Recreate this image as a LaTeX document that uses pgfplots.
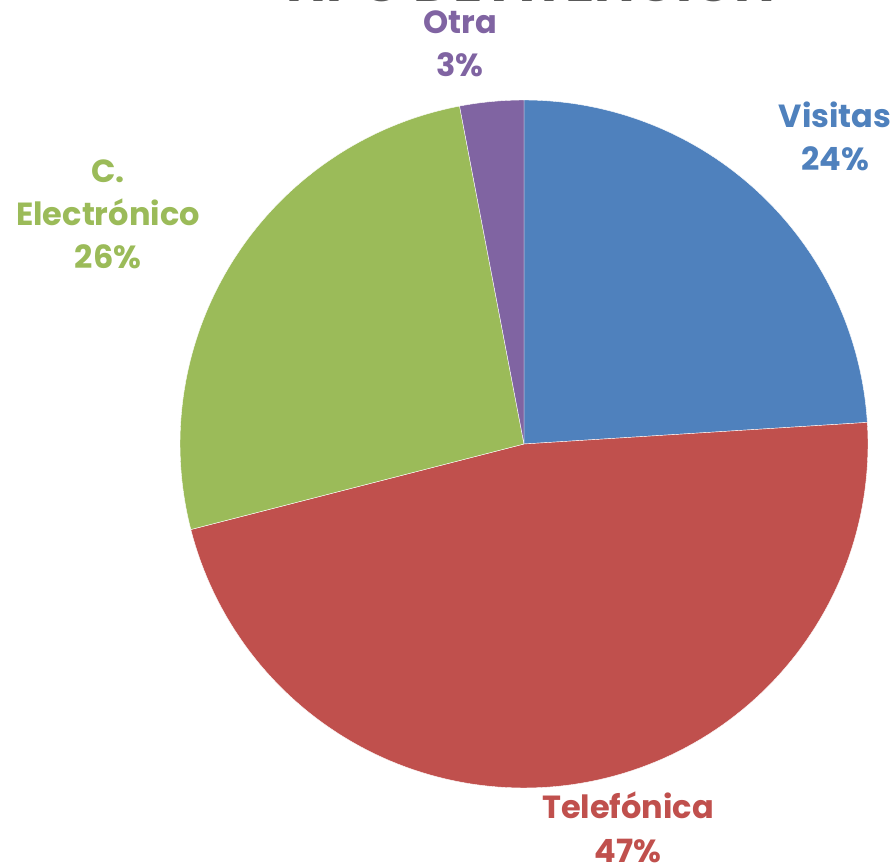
\documentclass[border=0pt]{standalone}
\usepackage{pgfplots}
\usepackage{pgfplotstable}
\pgfplotsset{compat=1.18}
\usepackage{fontspec}
\setmainfont{Poppins}
\definecolor{cVis}{HTML}{4F81BD}
\definecolor{cTel}{HTML}{C0504D}
\definecolor{cEle}{HTML}{9BBB59}
\definecolor{cOtr}{HTML}{8064A2}
\definecolor{cTit}{HTML}{595959}
\pgfplotstableread{
label value
Visitas 24
Telefonica 47
Electronico 26
Otra 3
}\piedata
\begin{document}
\begin{tikzpicture}
\pgfplotstablegetelem{0}{value}\of\piedata \let\vA\pgfplotsretval
\pgfplotstablegetelem{1}{value}\of\piedata \let\vB\pgfplotsretval
\pgfplotstablegetelem{2}{value}\of\piedata \let\vC\pgfplotsretval
\pgfplotstablegetelem{3}{value}\of\piedata \let\vD\pgfplotsretval
\pgfmathsetmacro\aA{90}
\pgfmathsetmacro\aB{\aA-3.6*\vA}
\pgfmathsetmacro\aC{\aB-3.6*\vB}
\pgfmathsetmacro\aD{\aC-3.6*\vC}
\pgfmathsetmacro\aE{\aD-3.6*\vD}
\begin{axis}[
  scale only axis, width=894pt, height=863pt,
  xmin=0, xmax=894, ymin=0, ymax=863,
  hide axis, clip=false,
]
\addplot[fill=cVis, draw=white, line width=0.4pt, domain=\aB:\aA, samples=80, variable=\t]
  ({524+344*cos(\t)},{419+344*sin(\t)}) -- (axis cs:524,419) -- cycle;
\addplot[fill=cTel, draw=white, line width=0.4pt, domain=\aC:\aB, samples=120, variable=\t]
  ({524+344*cos(\t)},{419+344*sin(\t)}) -- (axis cs:524,419) -- cycle;
\addplot[fill=cEle, draw=white, line width=0.4pt, domain=\aD:\aC, samples=80, variable=\t]
  ({524+344*cos(\t)},{419+344*sin(\t)}) -- (axis cs:524,419) -- cycle;
\addplot[fill=cOtr, draw=white, line width=0.4pt, domain=\aE:\aD, samples=20, variable=\t]
  ({524+344*cos(\t)},{419+344*sin(\t)}) -- (axis cs:524,419) -- cycle;
\tikzset{lab/.style={font=\fontsize{32}{32}\selectfont\bfseries, anchor=base}}
\node[lab, text=cVis] at (axis cs:835,735) {Visitas};
\node[lab, text=cVis] at (axis cs:835,692) {24\%};
\node[lab, text=cTel] at (axis cs:628,45) {Telefónica};
\node[lab, text=cTel] at (axis cs:628,1) {47\%};
\node[lab, text=cEle] at (axis cs:108,680) {C.};
\node[lab, text=cEle] at (axis cs:108,637) {Electrónico};
\node[lab, text=cEle] at (axis cs:108,594) {26\%};
\node[lab, text=cOtr] at (axis cs:460,829) {Otra};
\node[lab, text=cOtr] at (axis cs:460,786) {3\%};
\node[font=\fontsize{54}{54}\selectfont\bfseries, text=cTit, anchor=base] at (axis cs:527,861) {TIPO DE ATENCIÓN};
\end{axis}
\pgfresetboundingbox
\useasboundingbox (0,0) rectangle (894pt,863pt);
\end{tikzpicture}
\end{document}
